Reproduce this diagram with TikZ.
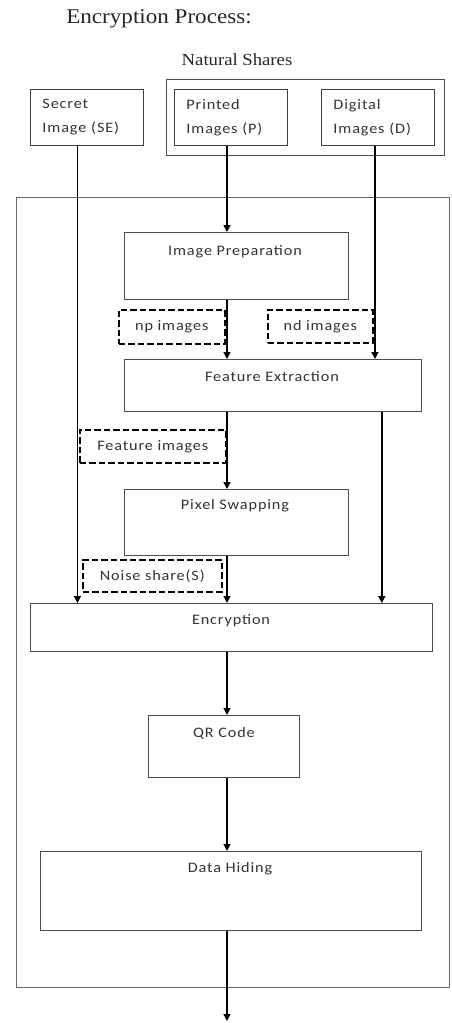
\documentclass[tikz,border=0pt]{standalone}
\usepackage{fontspec}
\setmainfont{Liberation Serif}
\newfontfamily\headfont[FakeStretch=1.1]{Liberation Serif}
\newfontfamily\boxfont[FakeStretch=1.12, LetterSpace=6]{Carlito}
\usetikzlibrary{arrows.meta}

\begin{document}
\begin{tikzpicture}[x=1pt,y=-1pt,
  box/.style={draw=black!70, line width=0.8pt, anchor=north west, inner sep=0pt},
  srcbox/.style={draw=black!75, line width=0.9pt, anchor=north west, align=left,
    text width=89pt, inner xsep=12pt, inner ysep=0pt, minimum height=56pt,
    text=black!80, font=\boxfont\fontsize{14.5}{24}\selectfont},
  lbl/.style={text=black!80, font=\boxfont\fontsize{14.5}{16}\selectfont, inner sep=0pt},
  dbox/.style={draw=black, line width=1.6pt, dash pattern=on 6.5pt off 3pt,
    anchor=north west, inner sep=0pt, text=black!80,
    font=\boxfont\fontsize{14.5}{16}\selectfont},
  flow/.style={draw=black, line width=1.4pt, -{Triangle[length=7pt,width=7pt]}}]

\useasboundingbox (0,0) rectangle (451,1023);

% headings
\node[font=\headfont\fontsize{21}{24}\selectfont, text=black!85, inner sep=0pt] (title) at (159,19) {Encryption Process:};
\node[font=\headfont\fontsize{17}{20}\selectfont, text=black!85, inner sep=0pt] (natural) at (237,60) {Natural Shares};

% input shares
\node[box, minimum width=278pt, minimum height=76pt] (shares) at (166,79) {};
\node[srcbox] (se) at (30,89) {Secret\\Image (SE)};
\node[srcbox] (pr) at (174,89) {Printed\\Images (P)};
\node[srcbox] (dg) at (321,89) {Digital\\Images (D)};

% processing frame
\node[box, draw=black!60, line width=1.2pt, minimum width=433pt, minimum height=790pt] (frame) at (16,197) {};

% main column x position
\coordinate (spine) at (227,0);

% processing stages
\node[box, minimum width=224pt, minimum height=67pt] (prep) at (124,232) {};
\node[lbl] (preptxt) at (235,252) {Image Preparation};

\node[dbox, minimum width=106pt, minimum height=34pt] (np) at (118,309) {np images};
\node[dbox, minimum width=105pt, minimum height=33pt] (nd) at (267,309) {nd images};

\node[box, minimum width=297pt, minimum height=52pt] (feat) at (124,359) {};
\node[lbl] (feattxt) at (272,377) {Feature Extraction};

\node[dbox, minimum width=146pt, minimum height=33pt] (fimg) at (79,429) {Feature images};

\node[box, minimum width=224pt, minimum height=66pt] (pix) at (124,489) {};
\node[lbl] (pixtxt) at (235,506) {Pixel Swapping};

\node[dbox, minimum width=139pt, minimum height=32pt] (noise) at (82,559) {Noise share(S)};

\node[box, line width=1pt, minimum width=402pt, minimum height=48pt] (enc) at (30,603) {};
\node[lbl] (enctxt) at (231,621) {Encryption};

\node[box, minimum width=151pt, minimum height=62pt] (qr) at (148,715) {};
\node[lbl] (qrtxt) at (224,733) {QR Code};

\node[box, minimum width=381pt, minimum height=79pt] (hide) at (40,851) {};
\node[lbl] (hidetxt) at (230,869) {Data Hiding};

\coordinate (out) at (227,1021);

% connectors
\draw[flow] ([xshift=-9.5pt]se.south) -- ([xshift=-9.5pt]se.south |- enc.north);
\draw[flow] (pr.south -| spine) -- (prep.north -| spine);
\draw[flow] ([xshift=-3pt]dg.south) -- ([xshift=-3pt]dg.south |- feat.north);
\draw[flow] (prep.south -| spine) -- (feat.north -| spine);
\draw[flow] (feat.south -| spine) -- (pix.north -| spine);
\draw[flow] ([xshift=-40pt]feat.south east) -- ([xshift=-40pt]feat.south east |- enc.north);
\draw[flow] (pix.south -| spine) -- (enc.north -| spine);
\draw[flow] (enc.south -| spine) -- (qr.north -| spine);
\draw[flow] (qr.south -| spine) -- (hide.north -| spine);
\draw[flow] (hide.south -| spine) -- (out);

\end{tikzpicture}
\end{document}
